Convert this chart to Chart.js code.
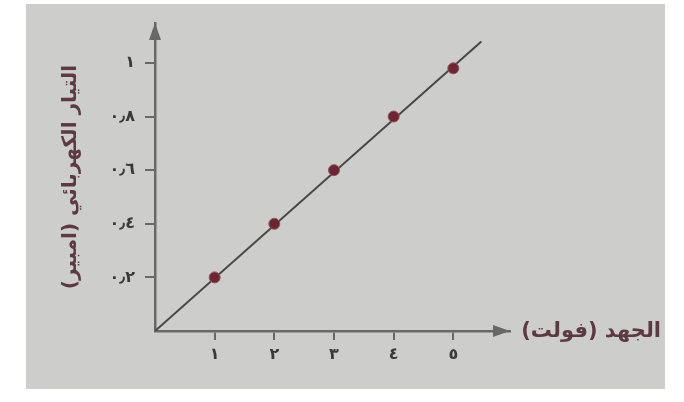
<!DOCTYPE html>
<html lang="ar">
<head>
<meta charset="utf-8">
<script src="https://cdn.jsdelivr.net/npm/chart.js@4"></script>
<style>
  html, body { margin: 0; padding: 0; background: #ffffff; }
  #wrap { position: relative; width: 684px; height: 402px; overflow: hidden; }
  #paper { position: absolute; left: 26px; top: 4px; width: 639px; height: 385px; background: #cdcdcb; }
  canvas { position: absolute; left: 0; top: 0; }
</style>
</head>
<body>
<div id="wrap">
  <div id="paper"></div>
  <canvas id="c" width="684" height="402"></canvas>
</div>
<script>
// ---- data ----
const voltage = [1, 2, 3, 4, 5];            // الجهد (فولت)
const current = [0.2, 0.4, 0.6, 0.8, 0.98]; // التيار (امبير)
const fitX = [0, 5.47];                     // best-fit line ends
const fitY = [0, 1.08];
const xTicks = [1, 2, 3, 4, 5];
const xTickLabels = ['١', '٢', '٣', '٤', '٥'];
const yTicks = [0.2, 0.4, 0.6, 0.8, 1];
const yTickLabels = ['٠٫٢', '٠٫٤', '٠٫٦', '٠٫٨', '١'];
const xTitle = 'الجهد (فولت)';
const yTitle = 'التيار الكهربائي (امبير)\u200F';

const axisColor = '#686868';
const textColor = '#3a3a3a';
const titleColor = '#5c3a42';

const arrowsPlugin = {
  id: 'arrows',
  afterDraw(chart) {
    const { ctx, chartArea: a } = chart;
    ctx.save();
    ctx.fillStyle = axisColor;
    // y arrow
    ctx.beginPath();
    ctx.moveTo(a.left, a.top);
    ctx.lineTo(a.left - 6, a.top + 17);
    ctx.lineTo(a.left + 6, a.top + 17);
    ctx.closePath();
    ctx.fill();
    // x arrow
    ctx.beginPath();
    ctx.moveTo(a.right, a.bottom);
    ctx.lineTo(a.right - 17, a.bottom - 6);
    ctx.lineTo(a.right - 17, a.bottom + 6);
    ctx.closePath();
    ctx.fill();
    // x axis title, right of the arrow
    ctx.direction = 'rtl';
    ctx.textAlign = 'right';
    ctx.textBaseline = 'middle';
    ctx.fillStyle = titleColor;
    ctx.font = 'bold 21px "DejaVu Sans"';
    ctx.fillText(xTitle, a.right + 151, a.bottom + 1);
    ctx.restore();
  }
};

new Chart(document.getElementById('c'), {
  type: 'scatter',
  data: {
    datasets: [
      {
        data: fitX.map((x, i) => ({ x: x, y: fitY[i] })),
        showLine: true,
        borderColor: '#474747',
        borderWidth: 2,
        pointRadius: 0,
        order: 2
      },
      {
        data: voltage.map((x, i) => ({ x: x, y: current[i] })),
        showLine: false,
        pointRadius: 5.5,
        backgroundColor: '#6a2733',
        borderColor: '#94505a',
        borderWidth: 1,
        order: 1
      }
    ]
  },
  options: {
    responsive: false,
    animation: false,
    devicePixelRatio: 1,
    layout: { padding: { left: 0, top: 23, right: 174, bottom: 0 } },
    plugins: { legend: { display: false }, tooltip: { enabled: false } },
    events: [],
    scales: {
      x: {
        type: 'linear',
        min: 0,
        max: 5.95,
        afterBuildTicks: s => { s.ticks = xTicks.map(v => ({ value: v })); },
        afterFit: s => { s.height = 71; },
        border: { display: true, color: axisColor, width: 2.5 },
        grid: { display: true, drawOnChartArea: false, drawTicks: true, tickLength: 9, tickColor: axisColor, lineWidth: 2 },
        ticks: {
          autoSkip: false,
          maxRotation: 0,
          padding: 5,
          color: textColor,
          font: { family: 'DejaVu Sans', size: 16, weight: 'bold' },
          callback: (v, i) => xTickLabels[i]
        }
      },
      y: {
        type: 'linear',
        min: 0,
        max: 1.149,
        afterBuildTicks: s => { s.ticks = yTicks.map(v => ({ value: v })); },
        afterFit: s => { s.width = 155; },
        border: { display: true, color: axisColor, width: 2.5 },
        grid: { display: true, drawOnChartArea: false, drawTicks: true, tickLength: 10, tickColor: axisColor, lineWidth: 2 },
        ticks: {
          autoSkip: false,
          padding: 10,
          color: textColor,
          font: { family: 'DejaVu Sans', size: 16, weight: 'bold' },
          callback: (v, i) => yTickLabels[i]
        },
        title: {
          display: true,
          text: yTitle,
          color: titleColor,
          font: { family: 'DejaVu Sans', size: 20, weight: 'bold' },
          padding: { top: 59, bottom: 0 }
        }
      }
    }
  },
  plugins: [arrowsPlugin]
});
</script>
</body>
</html>
